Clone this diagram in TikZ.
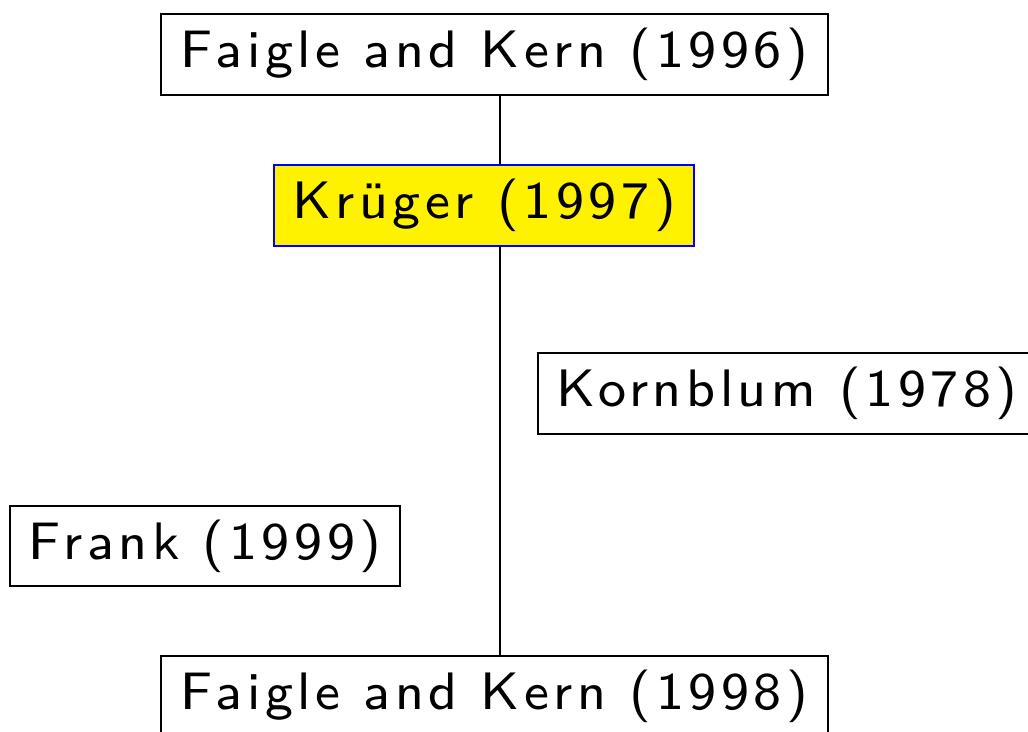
\documentclass[tikz,border=0pt]{standalone}
\usepackage{fontspec}
\newfontfamily\lmssight{lmsans8-regular.otf}[LetterSpace=8.7]
\begin{document}
\begin{tikzpicture}[x=0.02cm,y=-0.02cm,
  box/.style={draw=black, line width=0.055cm, inner sep=0pt, minimum height=1.62cm, font=\lmssight\fontsize{30}{36}\selectfont},
  hl/.style={box, fill=yellow, draw=blue, line width=0.03cm},
  link/.style={line width=0.03cm}]
\useasboundingbox (0,0) rectangle (1028,731);
\clip (0,0) rectangle (1028,731);
\coordinate (spine) at (500,0);
\node[box, minimum width=13.34cm] (fk96) at (494.5,54.5) {Faigle and Kern (1996)};
\node[hl, minimum width=8.4cm] (kr) at (484,205.5) {Krüger (1997)};
\node[box, minimum width=9.96cm] (ko) at (787,393.5) {Kornblum (1978)};
\node[box, minimum width=7.8cm, minimum height=1.6cm] (fr) at (205,546) {Frank (1999)};
\node[box, minimum width=13.34cm] (fk98) at (494.5,696.5) {Faigle and Kern (1998)};
\draw[link] (fk96.south -| spine) -- (kr.north -| spine);
\draw[link] (kr.south -| spine) -- (fk98.north -| spine);
\end{tikzpicture}
\end{document}
